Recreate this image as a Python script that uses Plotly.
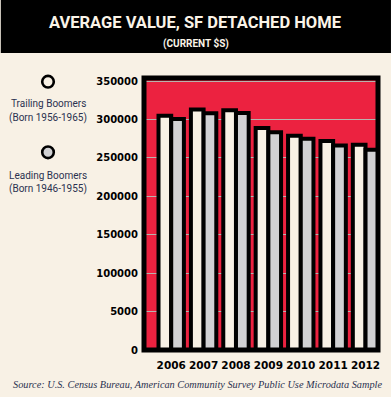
import plotly.graph_objects as go

years = ["2006", "2007", "2008", "2009", "2010", "2011", "2012"]
trailing = [305000, 313000, 312000, 289000, 279000, 272000, 267000]
leading = [300500, 308000, 308500, 283500, 275000, 266000, 260500]
ytick_vals = [0, 50000, 100000, 150000, 200000, 250000, 300000, 350000]
ytick_text = ["0", "5000", "100000", "150000", "200000", "250000", "300000", "350000"]

W, H = 391, 397
L, R, T, B = 143.5, 13, 78, 47
PW, PH = W - L - R, H - T - B

def px(x):
    return (x - L) / PW

def py(y):
    return (H - B - y) / PH

CREAM = "#F8F1E5"
GRAY = "#D1D1D3"
RED = "#EC2240"
NAVY = "#2B3150"

fig = go.Figure()
fig.add_trace(go.Bar(x=years, y=trailing, name="Trailing Boomers (Born 1956-1965)",
                     marker=dict(color=CREAM, line=dict(color="black", width=4))))
fig.add_trace(go.Bar(x=years, y=leading, name="Leading Boomers (Born 1946-1955)",
                     marker=dict(color=GRAY, line=dict(color="black", width=4))))

shapes = []
shapes.append(dict(type="rect", xref="paper", yref="paper", x0=px(0), x1=px(W),
                   y0=py(53), y1=py(0), fillcolor="black", line=dict(width=0), layer="below"))
shapes.append(dict(type="rect", xref="paper", yref="paper", x0=0, x1=1, y0=0, y1=1,
                   line=dict(color="black", width=5), fillcolor="rgba(0,0,0,0)"))
for cy, col in [(81.7, CREAM), (152.3, GRAY)]:
    r = 5.8
    shapes.append(dict(type="circle", xref="paper", yref="paper",
                       x0=px(47.3 - r), x1=px(47.3 + r), y0=py(cy + r), y1=py(cy - r),
                       fillcolor=col, line=dict(color="black", width=2.6)))

ann = []
ann.append(dict(text="AVERAGE VALUE, SF DETACHED HOME", x=px(195), y=py(22), xref="paper", yref="paper",
                showarrow=False, xanchor="center", yanchor="middle",
                font=dict(family="Roboto", size=16.5, color="#FBF4E8", weight="bold")))
ann.append(dict(text="(CURRENT $S)", x=px(196), y=py(43.5), xref="paper", yref="paper",
                showarrow=False, xanchor="center", yanchor="middle",
                font=dict(family="Roboto", size=10, color="#FBF4E8", weight="bold")))
for txt, cy in [("Trailing Boomers", 103.3), ("(Born 1956-1965)", 117.5),
                ("Leading Boomers", 175), ("(Born 1946-1955)", 189)]:
    ann.append(dict(text=txt, x=px(47.3), y=py(cy), xref="paper", yref="paper",
                    showarrow=False, xanchor="center", yanchor="middle",
                    font=dict(family="Roboto", size=10, color=NAVY)))
ann.append(dict(text="Source: U.S. Census Bureau, American Community Survey Public Use Microdata Sample",
                x=px(10), y=py(384), xref="paper", yref="paper", showarrow=False,
                xanchor="left", yanchor="middle",
                font=dict(family="Liberation Serif, serif", size=10.3, color=NAVY, style="italic")))

fig.update_layout(
    width=W, height=H,
    margin=dict(l=L, r=R, t=T, b=B, pad=0),
    paper_bgcolor=CREAM, plot_bgcolor=RED,
    barmode="group", bargap=0.216, bargroupgap=0,
    showlegend=False,
    shapes=shapes, annotations=ann,
    xaxis=dict(type="category", range=[-0.84, 6.385], showgrid=False, ticks="outside",
               ticklen=5, tickcolor="rgba(0,0,0,0)", zeroline=False,
               tickfont=dict(family="DejaVu Sans", size=10.5, color="black", weight="bold")),
    yaxis=dict(range=[0, 354000], tickvals=ytick_vals, ticktext=ytick_text,
               showgrid=True, gridcolor="#B9B2AD", gridwidth=1, zeroline=False,
               ticks="outside", ticklen=3, tickcolor="rgba(0,0,0,0)",
               tickfont=dict(family="DejaVu Sans", size=10, color="black", weight="bold")),
)

fig.write_html("out.html", config={"displayModeBar": False},
               post_script="document.body.style.margin='0';document.body.style.overflow='hidden';")
